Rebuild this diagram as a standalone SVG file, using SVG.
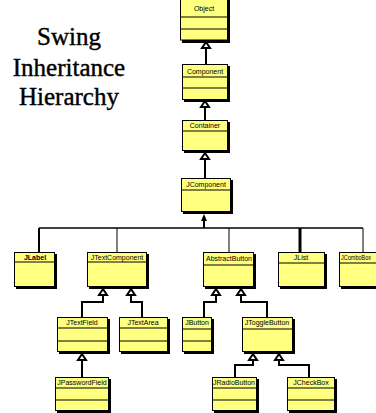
<svg xmlns="http://www.w3.org/2000/svg" width="376" height="413" viewBox="0 0 376 413">
<style>
.box{fill:#ffff80;stroke:#000;stroke-width:1}
.sh{fill:#000}
.sep{stroke:#000;stroke-width:1}
.lbl{font-family:"Liberation Sans",Arial,sans-serif;font-size:7px;fill:#000;text-anchor:middle}
.title{font-family:"Liberation Serif","Times New Roman",serif;font-size:25px;fill:#000;stroke:#000;stroke-width:0.4;text-anchor:middle}
.c{fill:none;stroke:#000;stroke-width:2}
.tri{fill:#fff;stroke:#000;stroke-width:2;stroke-linejoin:miter}
</style>
<rect width="376" height="413" fill="#fff"/>
<g id="title">
<text class="title" x="69" y="45">Swing</text>
<text class="title" x="69" y="76">Inheritance</text>
<text class="title" x="69" y="105">Hierarchy</text>
</g>
<g id="connectors">
<line class="c" x1="206" y1="48" x2="206" y2="64"/>
<polygon class="tri" points="206,42 202,48 210,48"/>
<line class="c" x1="205" y1="107" x2="205" y2="120"/>
<polygon class="tri" points="205,101 201,107 209,107"/>
<line class="c" x1="205" y1="159" x2="205" y2="178"/>
<polygon class="tri" points="205,153 201,159 209,159"/>
<line x1="204" y1="220" x2="204" y2="228" stroke="#000" stroke-width="2"/>
<polygon points="204,214 201,221 207,221" fill="#000"/>
<line x1="39" y1="228" x2="363" y2="228" stroke="#000" stroke-width="1.5"/>
<line x1="39" y1="228" x2="39" y2="252" stroke="#000" stroke-width="2"/>
<line x1="117" y1="228" x2="117" y2="252" stroke="#000" stroke-width="1"/>
<line x1="229" y1="228" x2="229" y2="252" stroke="#000" stroke-width="1"/>
<line x1="300" y1="228" x2="300" y2="252" stroke="#000" stroke-width="3"/>
<line x1="363" y1="228" x2="363" y2="252" stroke="#000" stroke-width="1"/>
<polyline class="c" points="103,295 103,302 82,302 82,317"/>
<polygon class="tri" points="103,289 99,295 107,295"/>
<polyline class="c" points="131,295 131,302 142,302 142,317"/>
<polygon class="tri" points="131,289 127,295 135,295"/>
<polyline class="c" points="216,295 216,302 204,302 204,317"/>
<polygon class="tri" points="216,289 212,295 220,295"/>
<polyline class="c" points="241,295 241,302 267,302 267,317"/>
<polygon class="tri" points="241,289 237,295 245,295"/>
<line class="c" x1="82" y1="360" x2="82" y2="377"/>
<polygon class="tri" points="82,354 78,360 86,360"/>
<polyline class="c" points="253,360 253,365 235,365 235,377"/>
<polygon class="tri" points="253,354 249,360 257,360"/>
<polyline class="c" points="279,360 279,365 309,365 309,377"/>
<polygon class="tri" points="279,354 275,360 283,360"/>
</g>
<g id="Object">
<rect class="sh" x="182" y="0" width="48" height="43"/>
<rect class="box" x="180.5" y="-2" width="47" height="42"/>
<line class="sep" x1="180.5" y1="17" x2="227.5" y2="17" stroke-width="2"/>
<line class="sep" x1="180.5" y1="29" x2="227.5" y2="29"/>
<text class="lbl" x="204" y="11">Object</text>
</g>
<g id="Component">
<rect class="sh" x="184" y="66" width="46" height="36"/>
<rect class="box" x="182.5" y="64.5" width="45" height="35"/>
<line class="sep" x1="182.5" y1="77" x2="227.5" y2="77"/>
<line class="sep" x1="182.5" y1="88" x2="227.5" y2="88"/>
<text class="lbl" x="205" y="74">Component</text>
</g>
<g id="Container">
<rect class="sh" x="184" y="122" width="46" height="31"/>
<rect class="box" x="182.5" y="120.5" width="45" height="30"/>
<line class="sep" x1="182.5" y1="131" x2="227.5" y2="131"/>
<text class="lbl" x="205" y="128">Container</text>
</g>
<g id="JComponent">
<rect class="sh" x="183" y="180" width="50" height="34"/>
<rect class="box" x="181.5" y="178.5" width="49" height="33"/>
<line class="sep" x1="181.5" y1="190" x2="230.5" y2="190"/>
<text class="lbl" x="206" y="187">JComponent</text>
</g>
<g id="JLabel">
<rect class="sh" x="16" y="254" width="41" height="35"/>
<rect class="box" x="14.5" y="252.5" width="40" height="34"/>
<line class="sep" x1="14.5" y1="262" x2="54.5" y2="262"/>
<text class="lbl" x="35" y="260" font-weight="bold">JLabel</text>
</g>
<g id="JTextComponent">
<rect class="sh" x="89" y="254" width="60" height="35"/>
<rect class="box" x="87.5" y="252.5" width="59" height="34"/>
<line class="sep" x1="87.5" y1="262" x2="146.5" y2="262"/>
<text class="lbl" x="117" y="260">JTextComponent</text>
</g>
<g id="AbstractButton">
<rect class="sh" x="205" y="254" width="51" height="35"/>
<rect class="box" x="203.5" y="252.5" width="50" height="34"/>
<line class="sep" x1="203.5" y1="265" x2="253.5" y2="265"/>
<text class="lbl" x="229" y="261">AbstractButton</text>
</g>
<g id="JList">
<rect class="sh" x="280" y="254" width="47" height="35"/>
<rect class="box" x="278.5" y="252.5" width="46" height="34"/>
<line class="sep" x1="278.5" y1="263" x2="324.5" y2="263"/>
<text class="lbl" x="301" y="260">JList</text>
</g>
<g id="JComboBox">
<rect class="sh" x="341" y="254" width="45" height="35"/>
<rect class="box" x="339.5" y="252.5" width="44" height="34"/>
<line class="sep" x1="339.5" y1="263" x2="383.5" y2="263"/>
<text class="lbl" x="341" y="260" style="text-anchor:start;font-size:6.5px" textLength="30" lengthAdjust="spacingAndGlyphs">JComboBox</text>
</g>
<g id="JTextField">
<rect class="sh" x="59" y="319" width="51" height="35"/>
<rect class="box" x="57.5" y="317.5" width="50" height="34"/>
<line class="sep" x1="57.5" y1="328" x2="107.5" y2="328"/>
<line class="sep" x1="57.5" y1="341" x2="107.5" y2="341"/>
<text class="lbl" x="82" y="325">JTextField</text>
</g>
<g id="JTextArea">
<rect class="sh" x="121" y="319" width="49" height="35"/>
<rect class="box" x="119.5" y="317.5" width="48" height="34"/>
<line class="sep" x1="119.5" y1="328" x2="167.5" y2="328"/>
<line class="sep" x1="119.5" y1="341" x2="167.5" y2="341"/>
<text class="lbl" x="143" y="325">JTextArea</text>
</g>
<g id="JButton">
<rect class="sh" x="184" y="319" width="30" height="35"/>
<rect class="box" x="182.5" y="317.5" width="29" height="34"/>
<line class="sep" x1="182.5" y1="329" x2="211.5" y2="329"/>
<line class="sep" x1="182.5" y1="341" x2="211.5" y2="341"/>
<text class="lbl" x="197" y="325">JButton</text>
</g>
<g id="JToggleButton">
<rect class="sh" x="244" y="319" width="51" height="35"/>
<rect class="box" x="242.5" y="317.5" width="50" height="34"/>
<line class="sep" x1="242.5" y1="329" x2="292.5" y2="329"/>
<text class="lbl" x="267" y="325">JToggleButton</text>
</g>
<g id="JPasswordField">
<rect class="sh" x="57" y="379" width="54" height="34"/>
<rect class="box" x="55.5" y="377.5" width="53" height="33"/>
<line class="sep" x1="55.5" y1="388" x2="108.5" y2="388"/>
<line class="sep" x1="55.5" y1="400" x2="108.5" y2="400"/>
<text class="lbl" x="82" y="385">JPasswordField</text>
</g>
<g id="JRadioButton">
<rect class="sh" x="214" y="379" width="45" height="34"/>
<rect class="box" x="212.5" y="377.5" width="44" height="33"/>
<line class="sep" x1="212.5" y1="388" x2="256.5" y2="388"/>
<line class="sep" x1="212.5" y1="400" x2="256.5" y2="400"/>
<text class="lbl" x="234" y="385">JRadioButton</text>
</g>
<g id="JCheckBox">
<rect class="sh" x="289" y="379" width="48" height="34"/>
<rect class="box" x="287.5" y="377.5" width="47" height="33"/>
<line class="sep" x1="287.5" y1="388" x2="334.5" y2="388"/>
<line class="sep" x1="287.5" y1="400" x2="334.5" y2="400"/>
<text class="lbl" x="311" y="385">JCheckBox</text>
</g>
</svg>
